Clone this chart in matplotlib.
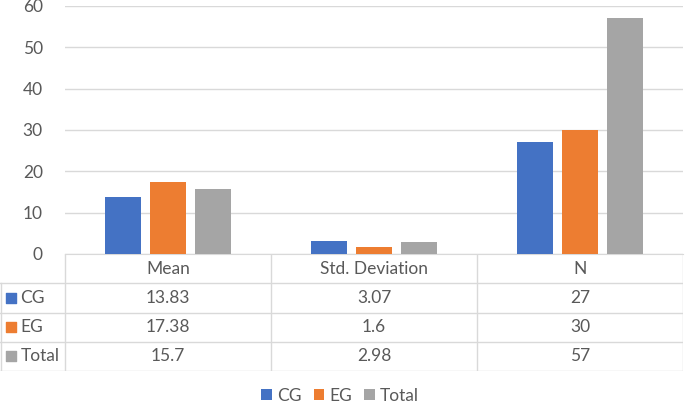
import matplotlib.pyplot as plt
import numpy as np

# datos de la tabla
categories = ['Mean', 'Std. Deviation', 'N']
series = ['CG', 'EG', 'Total']
cg = [13.83, 3.07, 27]
eg = [17.38, 1.6, 30]
total = [15.7, 2.98, 57]
cell_text = [['13.83', '3.07', '27'], ['17.38', '1.6', '30'], ['15.7', '2.98', '57']]
yticks = [0, 10, 20, 30, 40, 50, 60]

colors = ['#4472C4', '#ED7D31', '#A5A5A5']
grid_c = '#D9D9D9'
txt_c = '#595959'
plt.rcParams['font.family'] = ['Lato', 'DejaVu Sans']
fs = 12.5

W, H = 685, 404
fig = plt.figure(figsize=(W / 100, H / 100), dpi=100)

# Área del gráfico
left_px, right_px, top_px, base_px = 65, 683, 6, 254
ax = fig.add_axes([left_px / W, 1 - base_px / H, (right_px - left_px) / W, (base_px - top_px) / H])
x = np.arange(len(categories)) + 0.5
width = 0.175
for i, vals in enumerate([cg, eg, total]):
    ax.bar(x + (i - 1) * 0.22, vals, width, color=colors[i], zorder=3, label=series[i])
ax.set_xlim(0, len(categories))
ax.set_ylim(0, 60)
ax.set_yticks(yticks)
ax.set_xticks([])
ax.grid(axis='y', color=grid_c, linewidth=1, zorder=0)
for s in ['top', 'right', 'left']:
    ax.spines[s].set_visible(False)
ax.spines['bottom'].set_color(grid_c)
ax.tick_params(axis='y', length=0, pad=16, labelsize=fs, labelcolor=txt_c)

# Tabla de datos
row_h = 29.25
n_rows = len(series) + 1
tab_bottom = base_px + row_h * n_rows
lab_w = left_px / ((right_px - left_px) / len(categories))
tx = fig.add_axes([0, 1 - tab_bottom / H, right_px / W, (tab_bottom - base_px) / H])
tx.set_xlim(-lab_w, len(categories))
tx.set_ylim(n_rows, 0)
tx.axis('off')
lw = 1
# líneas verticales
for c in range(len(categories) + 1):
    tx.plot([c, c], [0, n_rows], color=grid_c, lw=lw)
tx.plot([-lab_w + 0.005, -lab_w + 0.005], [1, n_rows], color=grid_c, lw=lw)
# líneas horizontales
for r in range(1, n_rows + 1):
    tx.plot([-lab_w, len(categories)], [r, r], color=grid_c, lw=lw)

for c, cat in enumerate(categories):
    tx.text(c + 0.5, 0.5, cat, ha='center', va='center', fontsize=fs, color=txt_c)
for r, name in enumerate(series):
    tx.scatter([-lab_w + 0.055], [r + 1.5], marker='s', s=50, color=colors[r])
    tx.text(-lab_w + 0.1, r + 1.5, name, ha='left', va='center', fontsize=fs, color=txt_c)
    for c in range(len(categories)):
        tx.text(c + 0.5, r + 1.5, cell_text[r][c], ha='center', va='center', fontsize=fs, color=txt_c)

# Leyenda
fig.legend(loc='center', bbox_to_anchor=(340 / W, 1 - 396 / H), ncol=3, frameon=False,
           fontsize=fs, labelcolor=txt_c, handlelength=0.6, handleheight=0.6,
           handletextpad=0.3, columnspacing=0.7)

fig.savefig('out.png', dpi=100)
